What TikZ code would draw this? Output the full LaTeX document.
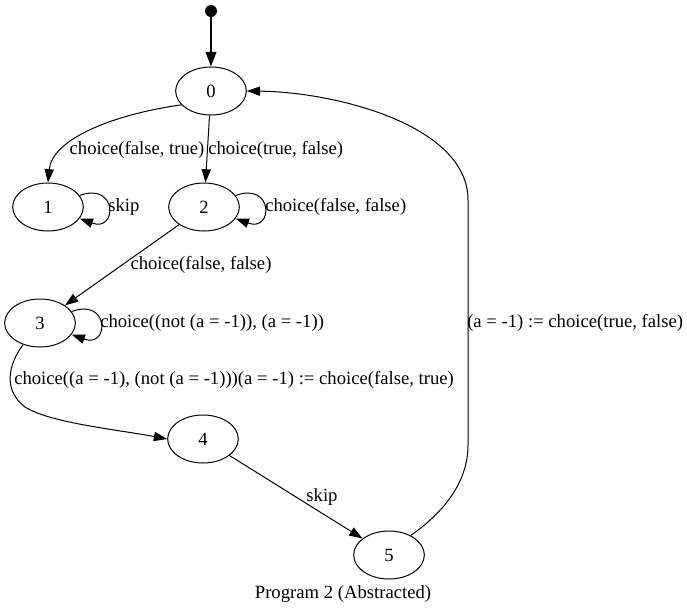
\documentclass[tikz,border=0pt]{standalone}
\usepackage{fontspec}
\setmainfont{Liberation Serif}
\usetikzlibrary{shapes.geometric,arrows.meta}
\begin{document}
\begin{tikzpicture}[x=0.75pt,y=-0.75pt,
  txt/.style={font=\fontsize{14}{16}\selectfont},
  state/.style={draw,ellipse,line width=0.75pt,minimum width=53pt,minimum height=36pt,inner sep=0pt,txt},
  edge/.style={draw,line width=0.75pt,-{Triangle[length=10pt,width=7pt]}},
  lbl/.style={inner sep=0pt,txt},
]
\useasboundingbox (0,0) rectangle (687,615);

% states
\node[circle,fill,inner sep=0pt,minimum size=9pt] (init) at (211,11) {};
\node[state] (n0) at (211,91) {0};
\node[state] (n1) at (48,207) {1};
\node[state] (n2) at (204,207) {2};
\node[state] (n3) at (40,323) {3};
\node[state] (n4) at (203,439) {4};
\node[state] (n5) at (389,555) {5};

% initial transition
\draw[line width=1.5pt,-{Triangle[length=11pt,width=8pt]}] (init) -- (n0);

% transitions
\draw[edge] (n0.205) .. controls (110,115) and (52,140) .. (n1.north);
\node[lbl] (l01) at (137,150) {choice(false, true)};

\draw[edge] (n0) -- (n2);
\node[lbl,anchor=west] (l02) at (208,150) {choice(true, false)};

\draw[edge] (n1.20) .. controls +(38,-14) and +(38,14) .. (n1.-20);
\node[lbl,anchor=west] (l11) at (108,207) {skip};

\draw[edge] (n2.20) .. controls +(38,-14) and +(38,14) .. (n2.-20);
\node[lbl,anchor=west] (l22) at (265,207) {choice(false, false)};

\draw[edge] (n2) -- (n3);
\node[lbl] (l23) at (201,265) {choice(false, false)};

\draw[edge] (n3.20) .. controls +(38,-14) and +(38,14) .. (n3.-20);
\node[lbl,anchor=west] (l33) at (100,323) {choice((not (a = -1)), (a = -1))};

\coordinate (k34) at (25,407);
\draw[edge] (n3.232) .. controls (8,365) and (3,390) .. (k34)
  .. controls (50,423) and (120,430) .. (n4.west);
\node[lbl,anchor=west] (l34) at (14,380) {choice((a = -1), (not (a = -1)))(a = -1) := choice(false, true)};

\draw[edge] (n4) -- (n5);
\node[lbl] (l45) at (322,497) {skip};

\coordinate (k50a) at (468,445);
\coordinate (k50b) at (468,200);
\draw[edge] (n5.42) .. controls (440,515) and (468,485) .. (k50a) -- (k50b)
  .. controls (468,125) and (335,92) .. (n0.east);
\node[lbl,anchor=west] (l50) at (467,323) {(a = -1) := choice(true, false)};

% caption
\node[lbl] (cap) at (343,594) {Program 2 (Abstracted)};
\end{tikzpicture}
\end{document}
